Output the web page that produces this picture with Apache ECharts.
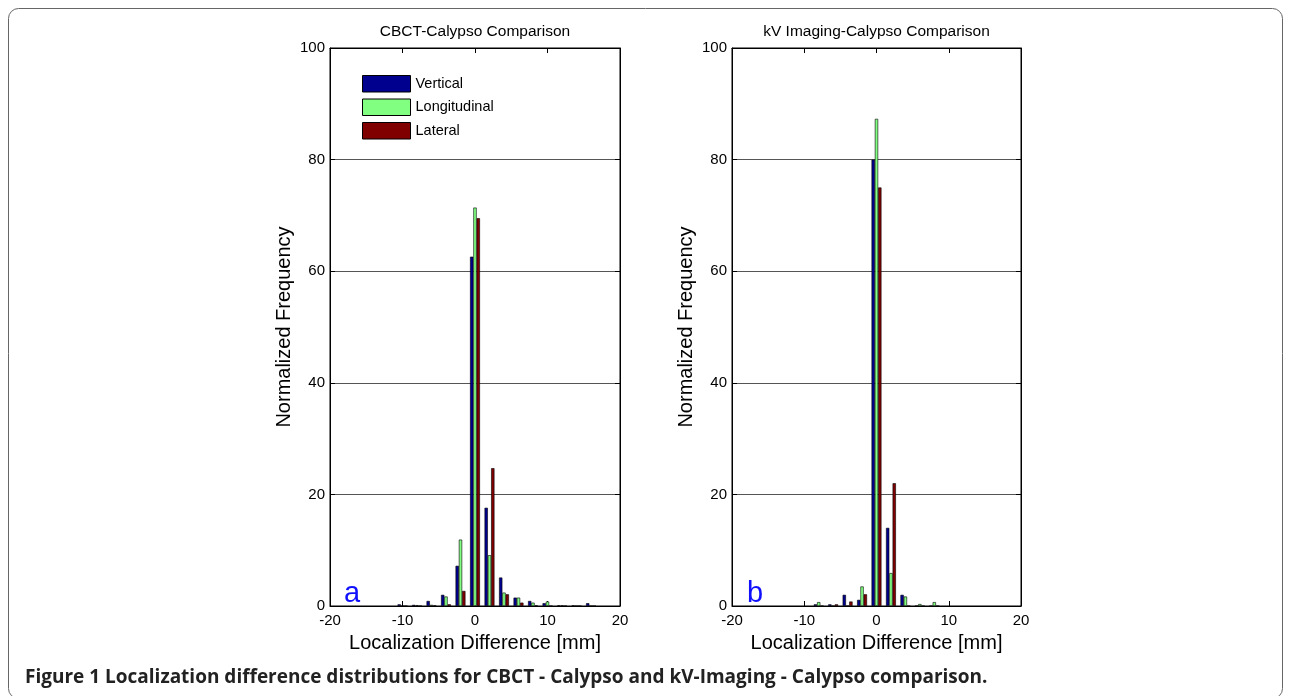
<!DOCTYPE html>
<html>
<head>
<meta charset="utf-8">
<script src="https://cdn.jsdelivr.net/npm/echarts@6/dist/echarts.min.js"></script>
<style>html,body{margin:0;padding:0;background:#fff;}#c{width:1290px;height:696px;}</style>
</head>
<body>
<div id="c"></div>
<script>
// Bin centres (mm) and normalized frequencies
var binsA = [-10, -8, -6, -4, -2, 0, 2, 4, 6, 8, 10, 12, 14, 16];
var verticalA = [0.3, 0.2, 0.9, 2.0, 7.2, 62.6, 17.6, 5.1, 1.5, 0.9, 0.5, 0.1, 0.1, 0.5];
var longitudinalA = [0, 0.15, 0.2, 1.7, 11.9, 71.4, 9.1, 2.4, 1.5, 0.6, 0.8, 0.1, 0, 0];
var lateralA = [0, 0, 0.1, 0.3, 2.7, 69.5, 24.7, 2.1, 0.6, 0.1, 0, 0, 0, 0];

var binsB = [-8, -6, -4, -2, 0, 2, 4, 6, 8];
var verticalB = [0.3, 0.3, 2.0, 1.1, 80.0, 14.0, 2.0, 0, 0];
var longitudinalB = [0.7, 0, 0, 3.5, 87.3, 5.9, 1.7, 0.35, 0.7];
var lateralB = [0, 0.3, 0.8, 2.1, 75.0, 22.0, 0, 0, 0];

var seriesNames = ['Vertical', 'Longitudinal', 'Lateral'];
var colors = ['#00008F', '#80FF80', '#800000'];
var titles = ['CBCT-Calypso Comparison', 'kV Imaging-Calypso Comparison'];
var panelLetters = ['a', 'b'];
var xName = 'Localization Difference [mm]';
var yName = 'Normalized Frequency';
var caption = 'Figure 1 Localization difference distributions for CBCT - Calypso and kV-Imaging - Calypso comparison.';

function pairs(bins, vals) { return bins.map(function (b, i) { return [b, vals[i]]; }); }

var FONT = 'Liberation Sans, Arial, sans-serif';
var grids = [
  { left: 330, top: 48, width: 290, height: 558 },
  { left: 732, top: 48, width: 289, height: 558 }
];

function bottomX(gi) {
  return {
    type: 'value', gridIndex: gi, min: -20, max: 20, interval: 10,
    name: xName, nameLocation: 'middle', nameGap: 27,
    nameTextStyle: { fontFamily: FONT, fontSize: 20, color: '#000' },
    axisLine: { show: true, onZero: false, lineStyle: { color: '#000', width: 1 } },
    axisTick: { show: true, inside: true, length: 5, lineStyle: { color: '#000' } },
    axisLabel: { fontFamily: FONT, fontSize: 15, color: '#000', margin: 7 },
    splitLine: { show: false }
  };
}
function topX(gi) {
  return {
    type: 'value', gridIndex: gi, min: -20, max: 20, interval: 10, position: 'top',
    axisLine: { show: true, onZero: false, lineStyle: { color: '#000', width: 1 } },
    axisTick: { show: true, inside: true, length: 5, lineStyle: { color: '#000' } },
    axisLabel: { show: false }, splitLine: { show: false }
  };
}
function leftY(gi) {
  return {
    type: 'value', gridIndex: gi, min: 0, max: 100, interval: 20,
    name: yName, nameLocation: 'middle', nameGap: 36, nameRotate: 90,
    nameTextStyle: { fontFamily: FONT, fontSize: 20, color: '#000' },
    axisLine: { show: true, onZero: false, lineStyle: { color: '#000', width: 1 } },
    axisTick: { show: true, inside: true, length: 5, lineStyle: { color: '#000' } },
    axisLabel: { fontFamily: FONT, fontSize: 15, color: '#000', margin: 5 },
    splitLine: { show: true, lineStyle: { color: '#555', width: 1 } }
  };
}
function rightY(gi) {
  return {
    type: 'value', gridIndex: gi, min: 0, max: 100, interval: 20, position: 'right',
    axisLine: { show: true, onZero: false, lineStyle: { color: '#000', width: 1 } },
    axisTick: { show: true, inside: true, length: 5, lineStyle: { color: '#000' } },
    axisLabel: { show: false }, splitLine: { show: false }
  };
}

var dataSets = [
  [verticalA, longitudinalA, lateralA],
  [verticalB, longitudinalB, lateralB]
];
var binSets = [binsA, binsB];
var series = [];
for (var g = 0; g < 2; g++) {
  for (var s = 0; s < 3; s++) {
    series.push({
      type: 'bar', name: seriesNames[s], xAxisIndex: g, yAxisIndex: g,
      data: pairs(binSets[g], dataSets[g][s]),
      barWidth: 3.3, barGap: '0%',
      itemStyle: { color: colors[s], borderColor: '#000', borderWidth: 0.6 },
      emphasis: { disabled: true }, silent: true, animation: false
    });
  }
}

var chart = echarts.init(document.getElementById('c'));
chart.setOption({
  animation: false,
  backgroundColor: '#fff',
  grid: grids.map(function (gr) { return Object.assign({ show: true, borderColor: '#000', borderWidth: 1, backgroundColor: 'transparent' }, gr); }),
  xAxis: [bottomX(0), bottomX(1), topX(0), topX(1)],
  yAxis: [leftY(0), leftY(1), rightY(0), rightY(1)],
  legend: {
    data: seriesNames, orient: 'vertical', left: 362, top: 75,
    icon: 'rect', itemWidth: 48, itemHeight: 16.5, itemGap: 6,
    textStyle: { fontFamily: FONT, fontSize: 14.5, color: '#000' },
    itemStyle: { borderColor: '#000', borderWidth: 1 },
    selectedMode: false, padding: 0
  },
  series: series,
  graphic: [
    { type: 'rect', shape: { x: 8.5, y: 8.5, width: 1274, height: 690, r: 10 }, style: { fill: 'none', stroke: '#666', lineWidth: 1 }, silent: true, z: -1 },
    { type: 'text', x: 475, y: 32, style: { text: titles[0], font: '15.5px ' + FONT, fill: '#000', textAlign: 'center', textVerticalAlign: 'middle' } },
    { type: 'text', x: 876.5, y: 32, style: { text: titles[1], font: '15.5px ' + FONT, fill: '#000', textAlign: 'center', textVerticalAlign: 'middle' } },
    { type: 'text', x: 352, y: 594, style: { text: panelLetters[0], font: '29px ' + FONT, fill: '#1010FF', textAlign: 'center', textVerticalAlign: 'middle' } },
    { type: 'text', x: 755, y: 594, style: { text: panelLetters[1], font: '29px ' + FONT, fill: '#1010FF', textAlign: 'center', textVerticalAlign: 'middle' } },
    { type: 'text', x: 25, y: 678, style: { text: caption, font: 'bold 19px "Open Sans", sans-serif', fill: '#222', textAlign: 'left', textVerticalAlign: 'middle' } }
  ]
});
</script>
</body>
</html>
